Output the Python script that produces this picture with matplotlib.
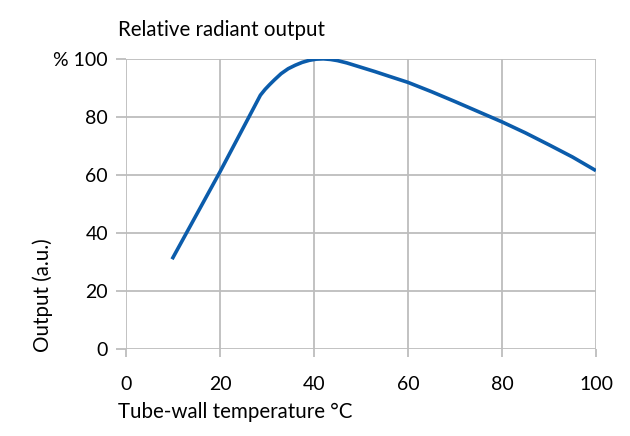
import matplotlib
matplotlib.use("Agg")
import matplotlib.pyplot as plt

# Data
temp_c = [9.8, 20, 26, 28.6, 29.6, 30.6, 31.6, 33, 34.5, 36, 37.5, 39, 40.5, 42, 43.5, 45, 47, 50, 53, 56, 60, 65, 70, 75, 80, 85, 90, 95, 100]
output = [31, 61.1, 79.5, 87.5, 89.5, 91.2, 92.8, 94.9, 96.6, 97.8, 98.8, 99.5, 99.9, 100, 99.8, 99.4, 98.6, 97.1, 95.6, 94.0, 91.9, 88.7, 85.3, 81.8, 78.3, 74.5, 70.4, 66.2, 61.5]

x_ticks = [0, 20, 40, 60, 80, 100]
y_ticks = [0, 20, 40, 60, 80, 100]
y_tick_labels = ["0", "20", "40", "60", "80", "% 100"]

plt.rcParams['font.family'] = ['Lato', 'DejaVu Sans']

fig = plt.figure(figsize=(6.3, 4.36), dpi=100)
ax = fig.add_axes([0.2, 0.199, 0.746, 0.666])

grid_c = '#bdbdbd'
ax.plot(temp_c, output, color='#0b5cab', lw=2.6, solid_capstyle='butt',
        solid_joinstyle='round', zorder=3)

ax.set_xlim(0, 100)
ax.set_ylim(0, 100)
ax.set_xticks(x_ticks)
ax.set_yticks(y_ticks)
ax.set_yticklabels(y_tick_labels)
ax.grid(True, color=grid_c, lw=1.3)
for s in ax.spines.values():
    s.set_visible(False)
ax.tick_params(axis='both', colors=grid_c, width=1.3, labelcolor='black', labelsize=14)
ax.tick_params(axis='x', length=6, pad=13)
ax.tick_params(axis='y', length=7, pad=6)

fig.text(118/630, 1 - 30/436, "Relative radiant output", fontsize=14.8, ha='left', va='center')
fig.text(118/630, 1 - 412/436, "Tube-wall temperature °C", fontsize=14.8, ha='left', va='center')
fig.text(43/630, 1 - 352/436, "Output (a.u.)", fontsize=14.8, ha='center', va='bottom', rotation=90)

fig.savefig("out.png", dpi=100)
